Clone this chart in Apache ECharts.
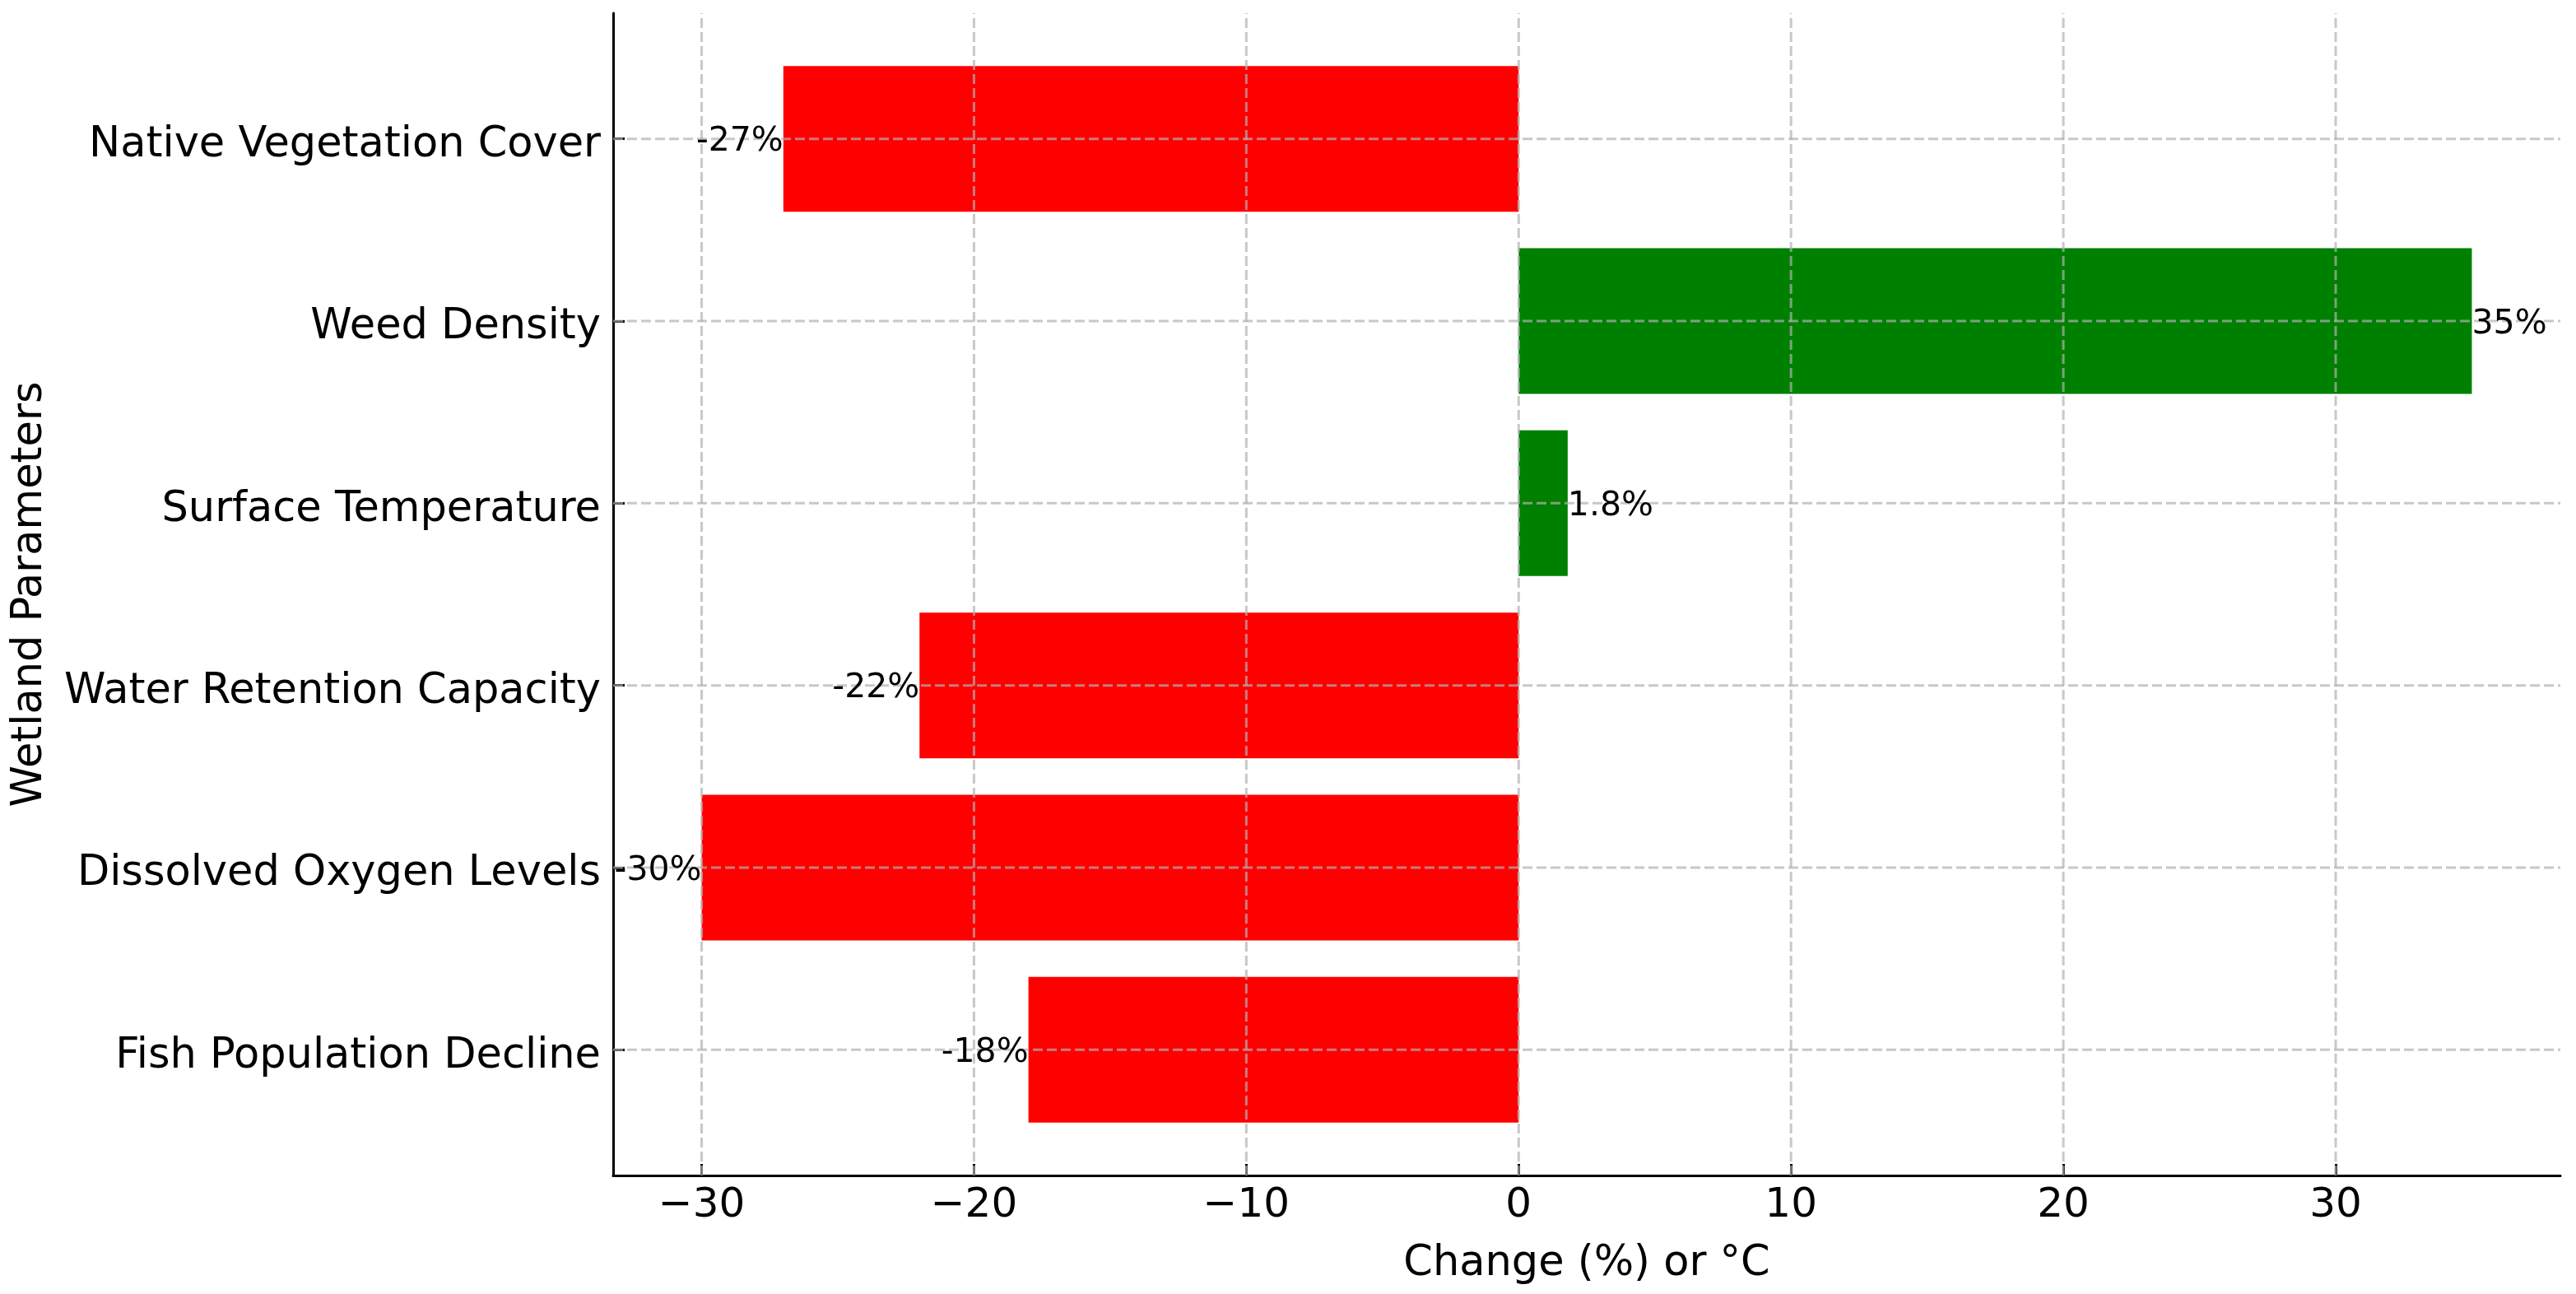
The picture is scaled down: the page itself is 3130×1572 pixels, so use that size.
<!DOCTYPE html>
<html>
<head>
<meta charset="utf-8">
<script src="https://cdn.jsdelivr.net/npm/echarts@6/dist/echarts.min.js"></script>
<style>
html,body{margin:0;padding:0;background:#fff;}
#chart{width:3130px;height:1572px;}
</style>
</head>
<body>
<div id="chart"></div>
<script>
// Categories listed bottom to top (index 0 is the lowest bar)
const categories = ['Fish Population Decline', 'Dissolved Oxygen Levels', 'Water Retention Capacity', 'Surface Temperature', 'Weed Density', 'Native Vegetation Cover'];
const values = [-18, -30, -22, 1.8, 35, -27];
const valueLabels = ['-18%', '-30%', '-22%', '1.8%', '35%', '-27%'];
const xTicks = [-30, -20, -10, 0, 10, 20, 30];
const yTicks = [0, 1, 2, 3, 4, 5];

const FONT = 'DejaVu Sans';
const GRID_COLOR = 'rgba(176,176,176,0.7)';
const barData = values.map((v, i) => [v, i]);

const chart = echarts.init(document.getElementById('chart'), null, {renderer: 'canvas'});
chart.setOption({
  animation: false,
  backgroundColor: '#ffffff',
  grid: {left: 745, right: 19, top: 16, bottom: 144, containLabel: false},
  xAxis: {
    type: 'value',
    min: -33.25,
    max: 38.25,
    z: 3,
    name: 'Change (%) or \u00B0C',
    nameLocation: 'middle',
    nameGap: 82,
    nameTextStyle: {fontFamily: FONT, fontSize: 51, color: '#000'},
    axisLine: {show: true, onZero: false, lineStyle: {color: '#000', width: 3}},
    axisTick: {show: true, inside: true, length: 14, customValues: xTicks, lineStyle: {color: '#000', width: 3}},
    axisLabel: {show: true, customValues: xTicks, margin: 12, fontFamily: FONT, fontSize: 50, color: '#000',
      formatter: v => (v < 0 ? '\u2212' + Math.abs(v) : String(v))},
    splitLine: {show: false}
  },
  yAxis: {
    type: 'value',
    min: -0.69,
    max: 5.69,
    z: 3,
    name: 'Wetland Parameters',
    nameLocation: 'middle',
    nameRotate: 90,
    nameGap: 683,
    nameTextStyle: {fontFamily: FONT, fontSize: 51, color: '#000'},
    axisLine: {show: true, onZero: false, lineStyle: {color: '#000', width: 3}},
    axisTick: {show: true, inside: true, length: 14, customValues: yTicks, lineStyle: {color: '#000', width: 3}},
    axisLabel: {show: true, customValues: yTicks, margin: 15, fontFamily: FONT, fontSize: 51, color: '#000',
      formatter: v => '{c|' + (categories[Math.round(v)] || '') + '}',
      rich: {c: {fontFamily: FONT, fontSize: 51, color: '#000', padding: [16, 0, 0, 0]}}},
    splitLine: {show: false}
  },
  series: [
    {
      type: 'custom',
      z: 1,
      data: barData,
      renderItem: function (params, api) {
        const v = api.value(0), idx = api.value(1);
        const p0 = api.coord([0, idx]);
        const p1 = api.coord([v, idx]);
        const h = api.size([0, 0.8])[1];
        return {
          type: 'rect',
          shape: {x: Math.min(p0[0], p1[0]), y: p0[1] - h / 2, width: Math.abs(p1[0] - p0[0]), height: h},
          style: {fill: v >= 0 ? '#008000' : '#ff0000'}
        };
      }
    },
    {
      // dashed grid lines drawn above the bars, at the tick values, through the axis scales
      type: 'custom',
      z: 4,
      silent: true,
      data: [0],
      renderItem: function (params, api) {
        const children = [];
        const yLo = -0.69, yHi = 5.69, xLo = -33.25, xHi = 38.25;
        xTicks.forEach(t => {
          const a = api.coord([t, yLo]), b = api.coord([t, yHi]);
          children.push({type: 'line', shape: {x1: a[0], y1: a[1], x2: b[0], y2: b[1]},
            style: {stroke: GRID_COLOR, lineWidth: 3, lineDash: [12, 5]}});
        });
        yTicks.forEach(t => {
          const a = api.coord([xLo, t]), b = api.coord([xHi, t]);
          children.push({type: 'line', shape: {x1: a[0], y1: a[1], x2: b[0], y2: b[1]},
            style: {stroke: GRID_COLOR, lineWidth: 3, lineDash: [12, 5]}});
        });
        return {type: 'group', children: children};
      }
    },
    {
      type: 'custom',
      z: 5,
      data: barData,
      renderItem: function (params, api) {
        const v = api.value(0), idx = api.value(1);
        const p = api.coord([v, idx]);
        return {
          type: 'text',
          x: p[0], y: p[1] + 4,
          style: {text: valueLabels[params.dataIndex], fontFamily: FONT, fontSize: 41, fill: '#000',
            align: v < 0 ? 'right' : 'left', verticalAlign: 'middle'}
        };
      }
    }
  ]
});
</script>
</body>
</html>
